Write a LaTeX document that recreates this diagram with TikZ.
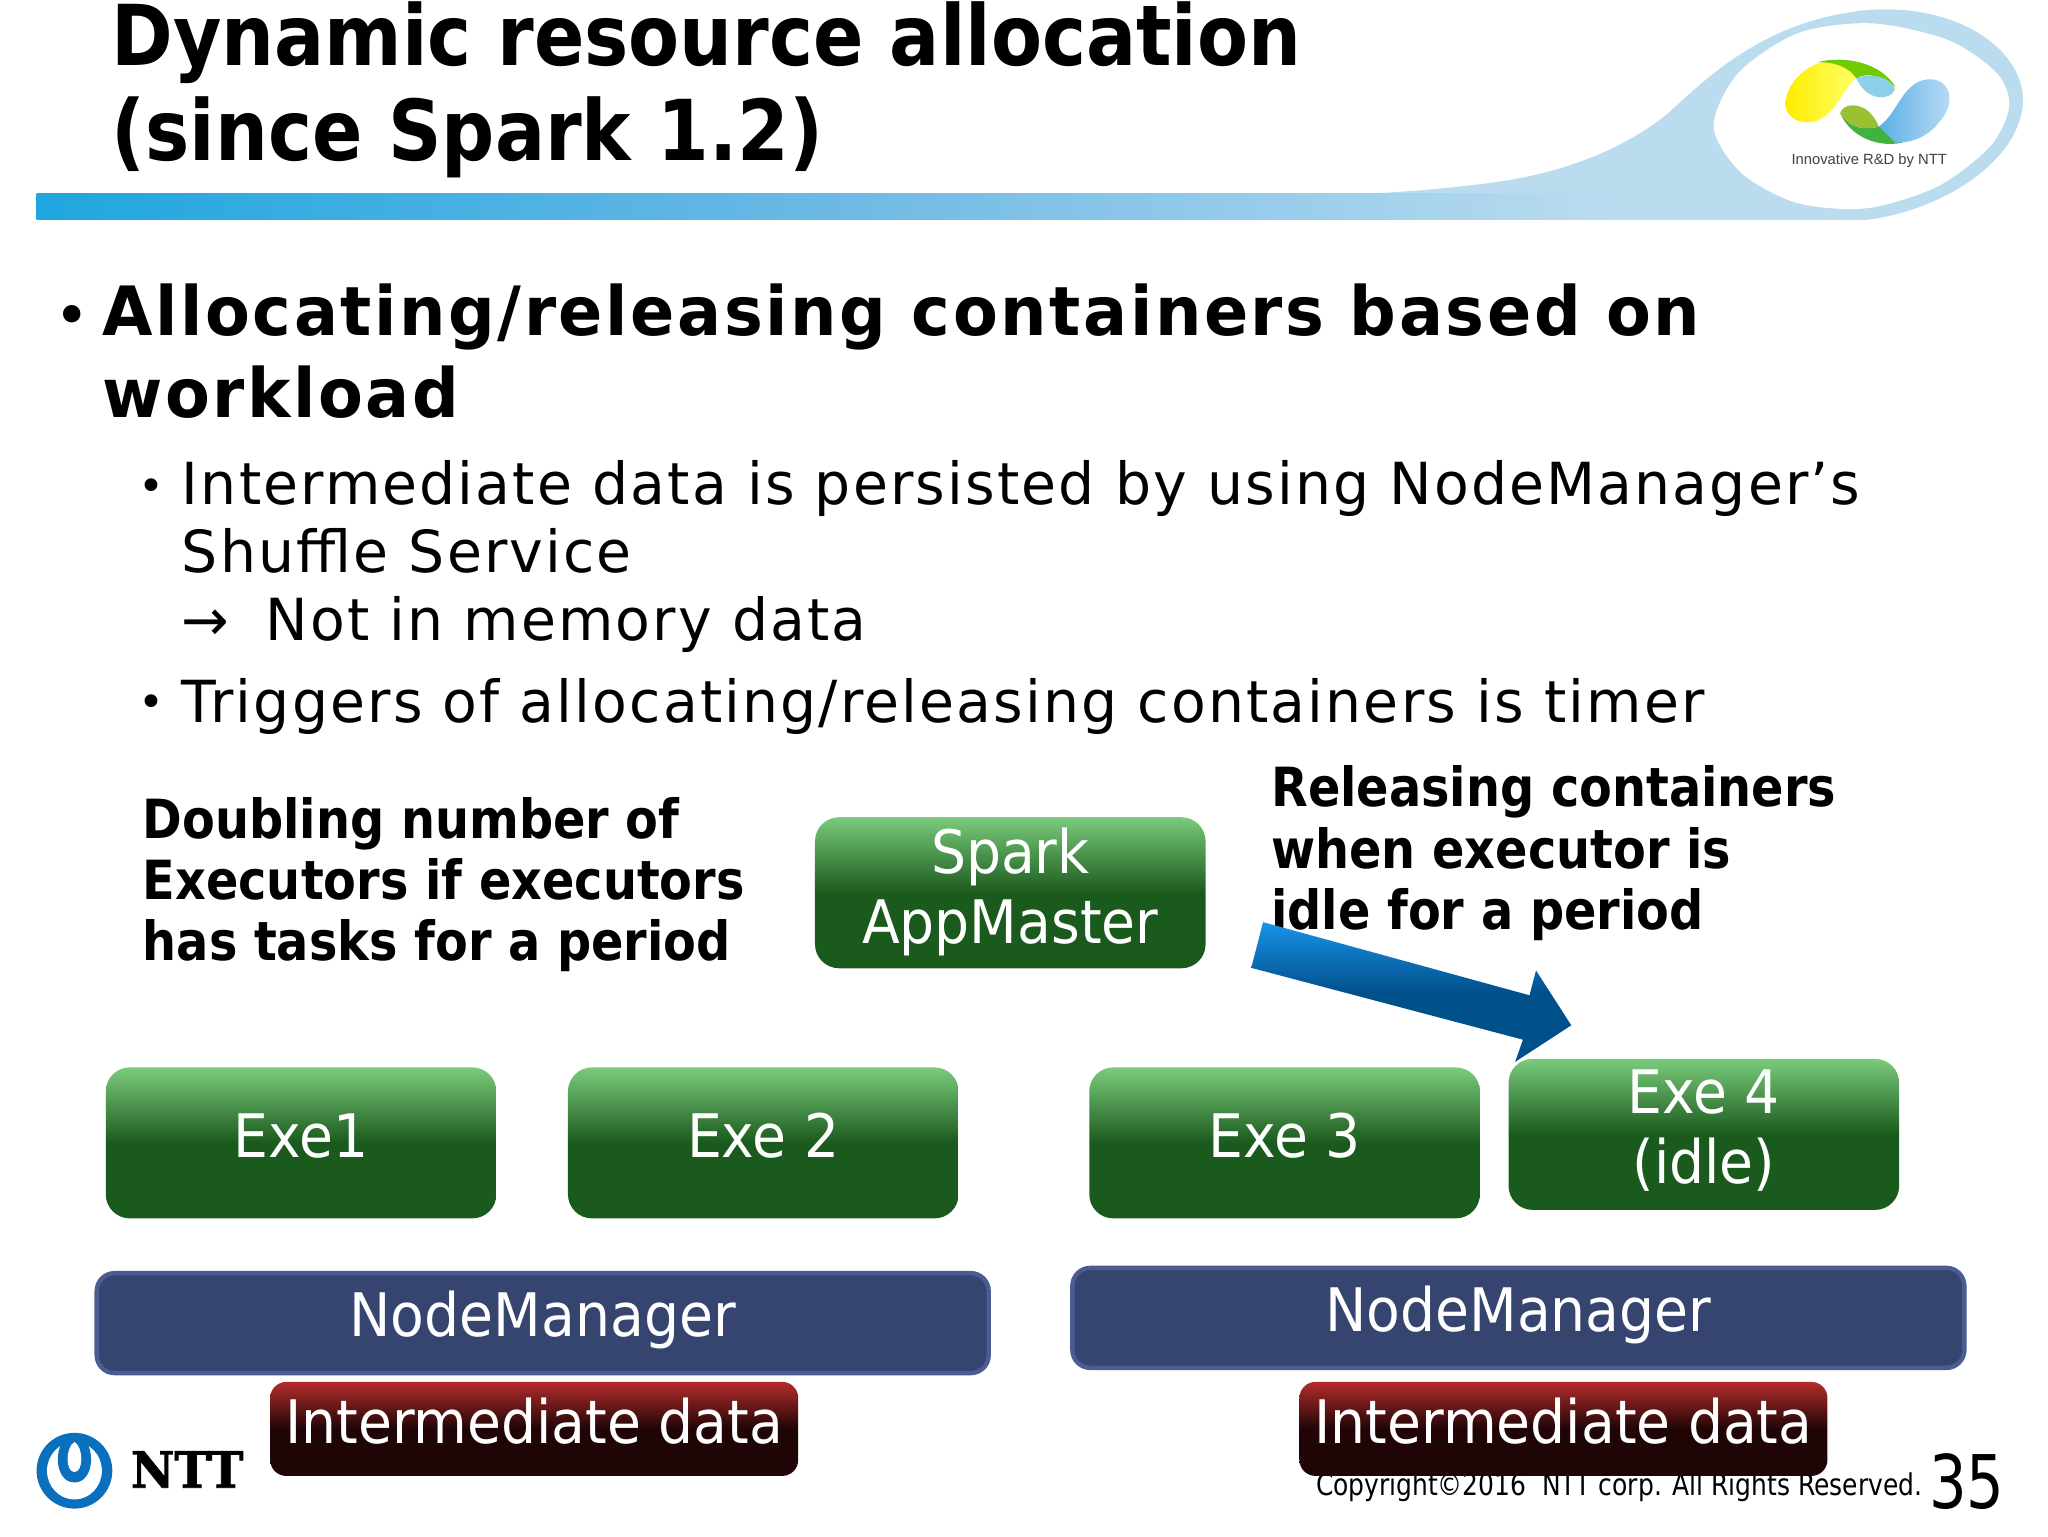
\documentclass[tikz,border=0pt]{standalone}
\usepackage{fontspec}
\usetikzlibrary{positioning}
\setmainfont{DejaVu Sans}
\newfontfamily\slidefont[FakeStretch=.98,LetterSpace=3.7]{DejaVu Sans}
\newfontfamily\slidebold[FakeStretch=.96,LetterSpace=3.8]{DejaVu Sans Bold}
\newfontfamily\titlebold[FakeStretch=.885]{DejaVu Sans Bold}
\newfontfamily\notebold[FakeStretch=.885]{DejaVu Sans Bold}
\newfontfamily\boxfont[FakeStretch=.92]{DejaVu Sans}
\newfontfamily\footfont[FakeStretch=.832]{DejaVu Sans}
\newfontfamily\pagefont[FakeStretch=.8]{DejaVu Sans}
\newfontfamily\logofont{Liberation Sans}
\newfontfamily\nttfont[FakeStretch=.95,FakeBold=1.5]{DejaVu Serif Bold}
\definecolor{exetop}{HTML}{7ACB7C}
\definecolor{exedark}{HTML}{1B5A1D}
\definecolor{nodefill}{HTML}{36456F}
\definecolor{nodeline}{HTML}{4A5C90}
\definecolor{datatop}{HTML}{B52C2C}
\definecolor{datadark}{HTML}{1F0505}
\definecolor{wave}{HTML}{BBDCEF}
\definecolor{bandleft}{HTML}{1FA6DF}
\definecolor{bandmid}{HTML}{6DB9E5}
\definecolor{nttblue}{HTML}{0A70BE}
\definecolor{arrowtop}{HTML}{1A93E8}
\definecolor{arrowdark}{HTML}{00508C}
\definecolor{logosky}{HTML}{8ED0EA}
\definecolor{logoblue}{HTML}{5AAFE6}
\definecolor{logopale}{HTML}{BFDDF5}
\tikzset{
  box/.style={rectangle, text=white, align=center, font=\boxfont\fontsize{30}{35}\selectfont, inner sep=0pt,
    execute at end node={\rule[-#1]{0pt}{#1}}},
  exebox/.style={box=7.5pt, rounded corners=12pt, minimum width=195.3pt, minimum height=75.5pt,
    top color=exetop, bottom color=exedark, middle color=exedark},
  nodebox/.style={box=9pt, rounded corners=9pt, draw=nodeline, line width=2.2pt, fill=nodefill,
    minimum width=446pt, minimum height=50pt},
  databox/.style={box=8.5pt, rounded corners=8pt, minimum width=264pt, minimum height=47pt,
    top color=datatop, bottom color=datadark, middle color=datadark},
  bullet/.style={anchor=center, inner sep=0pt, font=\fontsize{22}{22}\selectfont},
  para/.style={anchor=north west, inner sep=0pt, align=left},
}
\begin{document}
\begin{tikzpicture}[x=.65306pt, y=-.65306pt]
\useasboundingbox (0,0) rectangle (1568,1176);
% header
\begin{scope}[shift={(1148.6,0)}, x=.1749pt, y=-.1665pt]
\fill[wave] (-555,585) .. controls (-300,585) and (-100,560) .. (0,545)
  .. controls (160,520) and (340,460) .. (480,340)
  .. controls (600,225) and (760,60) .. (1050,30)
  .. controls (1300,10) and (1490,140) .. (1495,300)
  .. controls (1490,480) and (1270,630) .. (1050,660) -- (-555,660) -- cycle;
\fill[white] plot[smooth cycle] coordinates {(610,380) (680,220) (850,100) (1060,70) (1280,120)
  (1420,220) (1455,320) (1400,440) (1250,560) (1050,625) (850,610) (690,520)};
\shade[left color=yellow!85!orange, right color=yellow!60!white]
  (815,310) .. controls (820,240) and (890,180) .. (950,185) .. controls (985,190) and (1010,210) .. (1018,235)
  .. controls (975,270) and (965,340) .. (900,365) .. controls (850,375) and (815,350) .. (815,310) -- cycle;
\fill[green!45!yellow!80!black] (905,187) .. controls (990,165) and (1090,190) .. (1130,262)
  .. controls (1090,230) and (1050,215) .. (1018,235) .. controls (1000,205) and (960,185) .. (905,187) -- cycle;
\fill[logosky] (1018,235) .. controls (1060,215) and (1120,235) .. (1128,268)
  .. controls (1120,300) and (1050,310) .. (1018,235) -- cycle;
\fill[green!60!black!75] (972,340) .. controls (1000,410) and (1080,445) .. (1150,428)
  .. controls (1130,400) and (1100,385) .. (1082,380) .. controls (1050,390) and (1000,390) .. (972,340) -- cycle;
\fill[yellow!65!green!85!black] (972,340) .. controls (975,310) and (1050,295) .. (1082,380)
  .. controls (1050,390) and (1000,390) .. (972,340) -- cycle;
\shade[left color=logoblue, right color=logopale]
  (1082,380) .. controls (1140,340) and (1150,235) .. (1235,238) .. controls (1290,245) and (1300,310) .. (1260,360)
  .. controls (1220,420) and (1160,430) .. (1130,428) .. controls (1110,410) and (1095,390) .. (1082,380) -- cycle;
\node[font=\logofont\fontsize{7.4}{10}\selectfont, text=black!75, inner sep=0pt] (tagline) at (1055,481) {Innovative R\&D by NTT};
\end{scope}
\shade[left color=bandleft, right color=bandmid] (28,148) rectangle (640,168);
\shade[left color=bandmid, right color=wave] (640,148) rectangle (1240,168);
\node[para, font=\titlebold\fontsize{42}{47.7}\selectfont] (title) at (85,1) {Dynamic resource allocation\\(since Spark 1.2)};
% bullets
\node[bullet, font=\fontsize{30}{30}\selectfont] (dot1) at (55,246) {•};
\node[para, font=\slidebold\fontsize{34}{41}\selectfont] (head) at (78,217) {Allocating/releasing containers based on\\workload};
\node[bullet] (dot2) at (116,375) {•};
\node[para, font=\slidefont\fontsize{29}{34}\selectfont] (sub1) at (139,352) {Intermediate data is persisted by using NodeManager’s\\Shuffle Service\\→\hspace{18pt}Not in memory data};
\node[bullet] (dot3) at (116,541) {•};
\node[para, font=\slidefont\fontsize{29}{34}\selectfont] (sub2) at (139,519) {Triggers of allocating/releasing containers is timer};
% notes
\node[para, font=\notebold\fontsize{27}{30.7}\selectfont] (growNote) at (109,610) {Doubling number of\\Executors if executors\\has tasks for a period};
\node[para, font=\notebold\fontsize{27}{30.7}\selectfont] (shrinkNote) at (973,586) {Releasing containers\\when executor is\\idle for a period};
% footer
\node[anchor=base east, inner sep=0pt, font=\footfont\fontsize{15}{18}\selectfont] (copy) at (1472,1145) {Copyright©2016\ \ NTT corp. All Rights Reserved.};
\node[anchor=base east, inner sep=0pt, font=\pagefont\fontsize{37}{40}\selectfont] (page) at (1535,1155) {35};
% boxes
\node[exebox] (master) at (773.5,683.5) {Spark\\AppMaster};
\node[exebox] (exe1) at (230.5,875) {Exe1};
\node[exebox, right=35.4pt of exe1] (exe2) {Exe 2};
\node[exebox] (exe3) at (983.5,875) {Exe 3};
\node[exebox] (exe4) at (1304.5,868.5) {Exe 4\\(idle)};
\node[nodebox] (nm1) at (415.5,1013) {NodeManager};
\node[nodebox] (nm2) at (1162.5,1009) {NodeManager};
\node[databox] (data1) at (409,1094) {Intermediate data};
\node[databox] (data2) at (1197,1094) {Intermediate data};
% release arrow
\shade[top color=arrowtop, bottom color=arrowdark, middle color=arrowdark]
  (967,706) -- (958,741) -- (1166,796) -- (1160,813) -- (1203,785) -- (1176,743) -- (1171,762) -- cycle;
% NTT mark
\fill[nttblue] (57,1126) ellipse (29 and 29);
\fill[white] (57,1126) ellipse (21 and 22);
\fill[nttblue] (57,1098) .. controls (40,1100) and (40,1135) .. (57,1135) .. controls (74,1135) and (74,1100) .. (57,1098) -- cycle;
\fill[white] (57,1104) .. controls (50,1108) and (50,1127) .. (57,1127) .. controls (64,1127) and (64,1108) .. (57,1104) -- cycle;
\node[anchor=base west, inner sep=0pt, font=\nttfont\fontsize{25}{28}\selectfont] (ntt) at (100,1139) {NTT};
\end{tikzpicture}
\end{document}
